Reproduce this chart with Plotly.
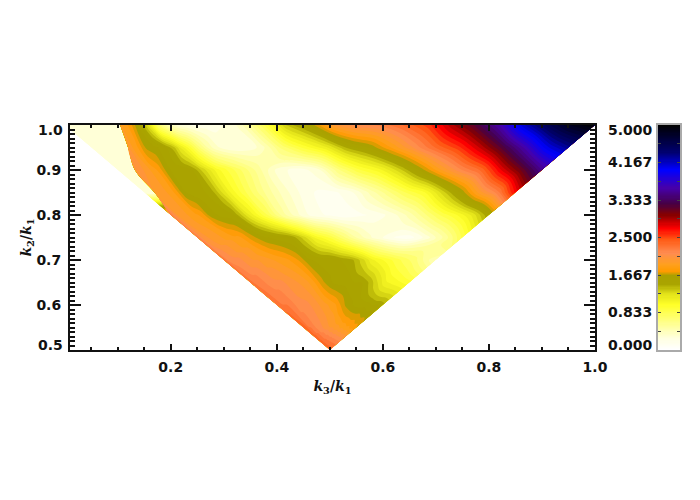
import plotly.graph_objects as go

# columns: left edge, pale side of the jagged front, hot side of the front, then fractions across the rest of the row
v_cols = [.02, .04, .06, .08, .10, .12, .14, .16, .18, .20, .25, .30, .35, .40, .45, .50, .55, .60, .65, .70, .75, .80, .85, .90, .95, 1]
k2_rows = [.5, .55, .6, .65, .7, .75, .8, .85, .9, .95, 1.0]
front_k3 = [.5, .45, .4, .35, .3, .25, .2, .17, .133, .12, .105]

row_050 = [2.4] * 29
row_055 = [2.4, 2.4, 2.4, 2.4, 2.35, 2.35, 2.3, 2.3, 2.25, 2.25, 2.2, 2.2, 2.2, 2.15, 2.1, 2.1, 2.05, 2.05, 2.0, 2.0, 1.95, 1.95, 1.9, 1.9, 1.85, 1.85, 1.8, 1.8, 1.75]
row_060 = [2.3, 2.3, 2.3, 2.3, 2.3, 2.25, 2.25, 2.25, 2.2, 2.2, 2.2, 2.15, 2.15, 2.1, 2.1, 2.05, 2.0, 1.95, 1.9, 1.85, 1.75, 1.65, 1.6, 1.55, 1.55, 1.55, 1.5, 1.5, 1.45]
row_065 = [2.3, 2.3, 2.3, 2.25, 2.2, 2.2, 2.2, 2.15, 2.15, 2.15, 2.1, 2.1, 2.1, 2.05, 2.0, 1.95, 1.85, 1.7, 1.6, 1.55, 1.55, 1.5, 1.5, 1.4, 1.25, 1.1, 1.05, 1.0, .95]
row_070 = [2.35, 2.35, 2.35, 2.15, 2.15, 2.1, 2.1, 2.05, 2.05, 2.0, 2.0, 1.95, 1.95, 1.9, 1.85, 1.75, 1.6, 1.55, 1.55, 1.5, 1.45, 1.3, 1.1, 1.0, .9, .8, .7, .55, .4]
row_075 = [2.3, 2.3, 2.3, 2.05, 2.0, 1.95, 1.95, 1.9, 1.9, 1.85, 1.85, 1.8, 1.72, 1.6, 1.55, 1.5, 1.3, 1.05, .9, .7, .5, .35, .25, .15, .12, .25, .4, .6, .85]
row_080 = [2.3, 2.3, 2.3, 2.0, 1.95, 1.9, 1.85, 1.8, 1.65, 1.6, 1.55, 1.55, 1.5, 1.15, .85, .55, .35, .2, .15, .1, .15, .2, .3, .45, .65, .85, 1.0, 1.2, 1.5]
row_085 = [.25, .25, 2.0, 1.95, 1.9, 1.8, 1.6, 1.55, 1.55, 1.5, 1.45, 1.3, 1.15, .85, .6, .4, .25, .15, .15, .25, .45, .65, .85, 1.0, 1.3, 1.6, 1.95, 2.2, 2.7]
row_090 = [.25, .25, 2.0, 2.0, 1.9, 1.8, 1.6, 1.55, 1.55, 1.5, 1.35, 1.2, 1.05, .8, .55, .3, .2, .3, .65, .9, 1.05, 1.3, 1.6, 1.9, 2.15, 2.35, 2.75, 3.1, 3.5]
row_095 = [.25, .25, 2.0, 1.85, 1.65, 1.6, 1.55, 1.4, 1.15, .95, .7, .5, .35, .25, .35, .7, .95, 1.15, 1.45, 1.6, 1.85, 2.1, 2.35, 2.55, 2.85, 3.2, 3.6, 4.05, 4.3]
row_100 = [.25, .25, 1.95, 1.8, 1.55, 1.2, .7, .45, .3, .25, .2, .2, .2, .35, .8, 1.35, 1.6, 2.0, 2.15, 2.2, 2.35, 2.55, 2.9, 3.2, 3.6, 4.15, 4.55, 4.85, 5.0]
z_rows = [row_050, row_055, row_060, row_065, row_070, row_075, row_080, row_085, row_090, row_095, row_100]

bar_levels = [i * 0.025 for i in range(201)]
bar_ticks = [.8333, 1.6667, 2.5, 3.3333, 4.1667]
bar_labels = ["0.833", "1.667", "2.500", "3.333", "4.167"]

colors = [
    [0.0, "rgb(255,255,255)"], [0.05, "rgb(255,255,225)"], [0.12, "rgb(255,255,140)"],
    [0.2, "rgb(255,255,40)"], [0.25, "rgb(225,225,25)"], [0.29, "rgb(170,165,0)"],
    [0.33, "rgb(170,160,0)"], [0.35, "rgb(255,155,0)"], [0.38, "rgb(255,160,30)"],
    [0.43, "rgb(255,140,80)"], [0.49, "rgb(255,90,20)"], [0.54, "rgb(255,0,0)"],
    [0.6, "rgb(135,0,0)"], [0.65, "rgb(70,0,70)"], [0.72, "rgb(70,0,170)"],
    [0.8, "rgb(0,0,255)"], [0.88, "rgb(0,0,110)"], [1.0, "rgb(0,0,0)"],
]

grid_x = []
for k2, front in zip(k2_rows, front_k3):
    edge = 1 - k2
    grid_x.append([edge, max(edge, front - 0.001), front] + [front + v * (k2 - front) for v in v_cols])
grid_y = [[k2] * 29 for k2 in k2_rows]
a_cols = list(range(29))

font = dict(family="DejaVu Sans", size=14, color="#111111")
tick_color = "#111111"

fig = go.Figure()
hidden = dict(showgrid=False, showline=False, startline=False, endline=False,
              showticklabels="none", minorgridcount=0)
fig.add_trace(go.Carpet(a=a_cols, b=k2_rows, x=grid_x, y=grid_y, carpet="tri",
                        aaxis=hidden, baxis=hidden))
fig.add_trace(go.Contourcarpet(a=a_cols, b=k2_rows, z=z_rows, carpet="tri",
                               colorscale=colors, zmin=0, zmax=5, showscale=False,
                               autocontour=False,
                               contours=dict(start=0, end=5, size=0.0833, coloring="fill"),
                               line=dict(width=0)))
fig.add_trace(go.Heatmap(x=[0, 1], y=bar_levels, z=[[v, v] for v in bar_levels],
                         colorscale=colors, zmin=0, zmax=5, showscale=False,
                         xaxis="x2", yaxis="y2"))

# the page body adds 8px on the left and top
fig.update_layout(
    width=700, height=500, autosize=False, showlegend=False,
    paper_bgcolor="white", plot_bgcolor="white", font=font,
    margin=dict(l=62, r=28, t=117, b=158),
    xaxis=dict(domain=[0, 525 / 610], range=[0.01, 1], tickvals=[.2, .4, .6, .8, 1.0],
               ticktext=["<b>0.2</b>", "<b>0.4</b>", "<b>0.6</b>", "<b>0.8</b>", "<b>1.0</b>"],
               ticks="inside", ticklen=6, tickwidth=1.5, tickcolor=tick_color,
               minor=dict(dtick=0.05, tick0=0, ticks="inside", ticklen=3, tickwidth=1.5, tickcolor=tick_color),
               showline=True, linewidth=2, linecolor=tick_color, mirror="ticks",
               showgrid=False, zeroline=False, ticklabelstandoff=3,
               title=dict(text="<b><i>k</i><sub>3</sub>/<i>k</i><sub>1</sub></b>",
                          font=dict(family="DejaVu Serif", size=14), standoff=7)),
    yaxis=dict(domain=[0, 1], range=[0.5, 1], tickvals=[.6, .7, .8, .9],
               ticktext=["<b>0.6</b>", "<b>0.7</b>", "<b>0.8</b>", "<b>0.9</b>"],
               ticks="inside", ticklen=11, tickwidth=1.5, tickcolor=tick_color,
               minor=dict(dtick=0.01, tick0=0, ticks="inside", ticklen=5, tickwidth=1.5, tickcolor=tick_color),
               showline=True, linewidth=2, linecolor=tick_color, mirror="ticks",
               showgrid=False, zeroline=False, ticklabelstandoff=4,
               title=dict(text="<b><i>k</i><sub>2</sub>/<i>k</i><sub>1</sub></b>",
                          font=dict(family="DejaVu Serif", size=14), standoff=0)),
    xaxis2=dict(domain=[588 / 610, 1], range=[0, 1], anchor="y2", showticklabels=False,
                ticks="", showgrid=False, zeroline=False, fixedrange=True,
                showline=True, linewidth=2, linecolor="#aaaaaa", mirror=True),
    yaxis2=dict(domain=[0, 1], range=[0, 5], anchor="x2", side="left", tickvals=bar_ticks,
                ticktext=[f"<b>{t}</b>" for t in bar_labels],
                ticks="inside", ticklen=3, tickwidth=1, tickcolor="#444444",
                minor=dict(dtick=0.41667, tick0=0, ticks="inside", ticklen=3, tickwidth=1, tickcolor="#444444"),
                showline=True, linewidth=2, linecolor="#aaaaaa", mirror="ticks",
                showgrid=False, zeroline=False, ticklabelstandoff=1),
    annotations=[
        dict(text="<b>1.0</b>", xref="paper", x=-5 / 610, y=0.978, yref="paper", xanchor="right", yanchor="middle", showarrow=False),
        dict(text="<b>0.5</b>", xref="paper", x=-5 / 610, y=0.022, yref="paper", xanchor="right", yanchor="middle", showarrow=False),
        dict(text="<b>5.000</b>", xref="paper", x=585 / 610, y=0.978, yref="paper", xanchor="right", yanchor="middle", showarrow=False),
        dict(text="<b>0.000</b>", xref="paper", x=585 / 610, y=0.022, yref="paper", xanchor="right", yanchor="middle", showarrow=False),
    ],
)

fig.write_html("out.html")
